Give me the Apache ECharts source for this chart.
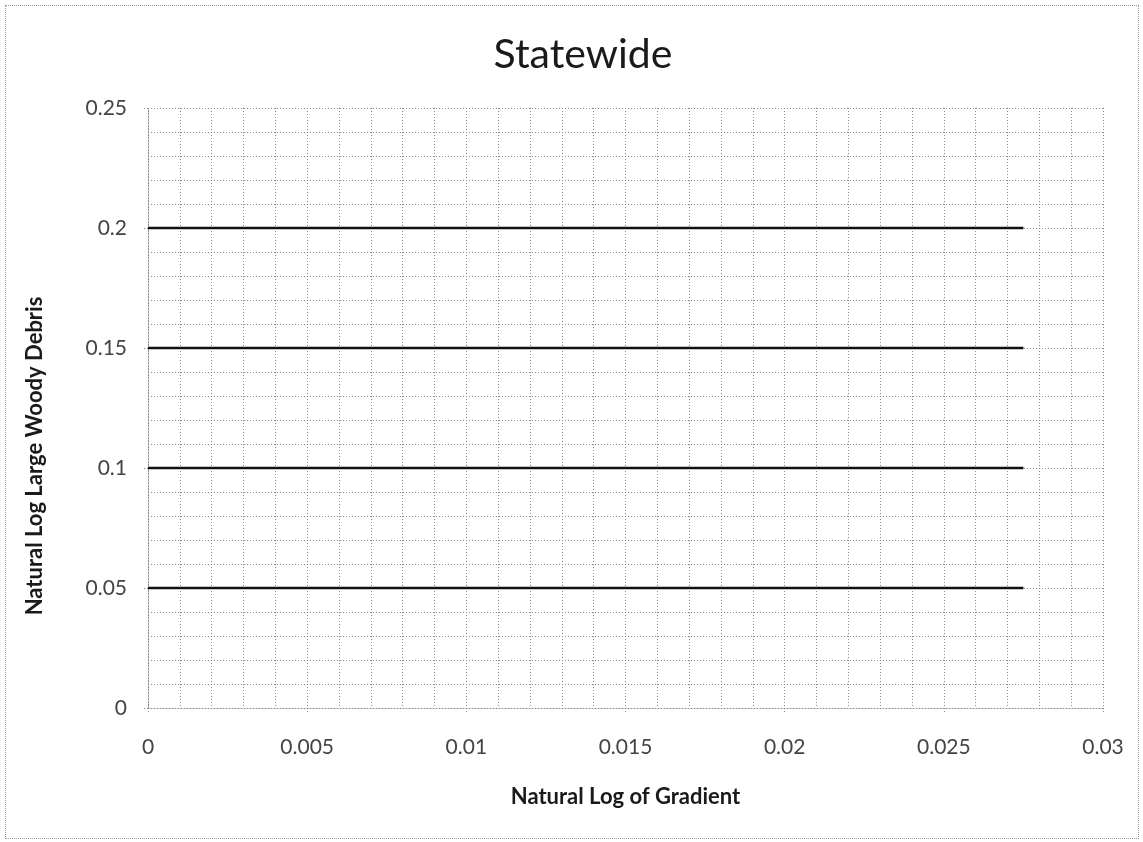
<!DOCTYPE html>
<html>
<head>
<meta charset="utf-8">
<script src="https://cdn.jsdelivr.net/npm/echarts@6/dist/echarts.min.js"></script>
<style>
html,body{margin:0;padding:0;background:#fff;}
#wrap{position:absolute;left:5px;top:5px;width:1134px;height:834px;border:1px dotted #999;box-sizing:border-box;}
#chart{position:absolute;left:0;top:0;width:1143px;height:842px;}
</style>
</head>
<body>
<div id="wrap"></div>
<div id="chart"></div>
<script>
const lineLevels = [0.2, 0.15, 0.1, 0.05];
const lineXStart = 0;
const lineXEnd = 0.0275;
const xTicks = [0, 0.005, 0.01, 0.015, 0.02, 0.025, 0.03];
const yTicks = [0, 0.05, 0.1, 0.15, 0.2, 0.25];

const chart = echarts.init(document.getElementById('chart'));
const font = 'Lato, "Open Sans", sans-serif';
const dotted = {color: '#8a8a8a', width: 1, type: [1, 2]};

const series = lineLevels.map((v, i) => ({
  name: 'Level ' + (i + 1),
  type: 'line',
  data: [[lineXStart, v], [lineXEnd, v]],
  showSymbol: false,
  symbol: 'none',
  lineStyle: {color: '#111', width: 2.5},
  silent: true
}));

chart.setOption({
  animation: false,
  backgroundColor: 'transparent',
  title: {
    text: 'Statewide',
    left: 578, top: 29, textAlign: 'center',
    textStyle: {fontFamily: font, fontSize: 41, fontWeight: 'normal', color: '#1a1a1a'}
  },
  graphic: [{
    type: 'text',
    x: 35, y: 456,
    rotation: Math.PI / 2,
    style: {
      text: 'Natural Log Large Woody Debris',
      font: 'bold 22px ' + font,
      fill: '#1a1a1a',
      align: 'center',
      verticalAlign: 'middle'
    }
  }],
  grid: {left: 148, right: 40, top: 108, bottom: 134},
  xAxis: {
    type: 'value', min: xTicks[0], max: xTicks[xTicks.length - 1], interval: 0.005,
    name: 'Natural Log of Gradient', nameLocation: 'middle', nameGap: 78,
    nameTextStyle: {fontFamily: font, fontSize: 22, fontWeight: 'bold', color: '#1a1a1a'},
    axisLine: {show: true, lineStyle: dotted},
    axisTick: {show: true, length: 4, lineStyle: dotted},
    axisLabel: {fontFamily: font, fontSize: 21, color: '#444', margin: 29,
      formatter: v => String(+v.toFixed(3))},
    splitLine: {show: true, lineStyle: dotted},
    minorTick: {show: false, splitNumber: 5},
    minorSplitLine: {show: true, lineStyle: dotted}
  },
  yAxis: {
    type: 'value', min: yTicks[0], max: yTicks[yTicks.length - 1], interval: 0.05,
    axisLine: {show: true, lineStyle: dotted},
    axisTick: {show: true, length: 4, lineStyle: dotted},
    axisLabel: {fontFamily: font, fontSize: 21, color: '#444', margin: 21,
      formatter: v => String(+v.toFixed(2))},
    splitLine: {show: true, lineStyle: dotted},
    minorTick: {show: false, splitNumber: 5},
    minorSplitLine: {show: true, lineStyle: dotted}
  },
  series: series
});
</script>
</body>
</html>
